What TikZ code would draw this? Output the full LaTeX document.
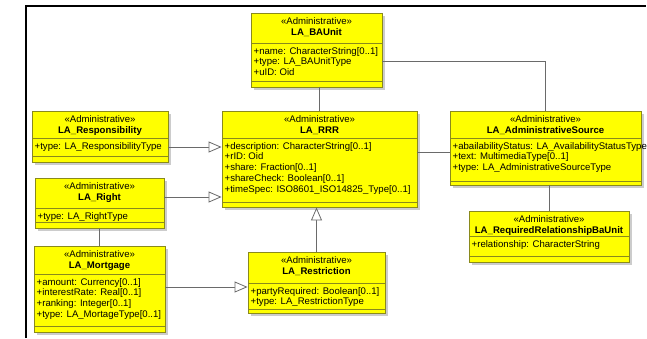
\documentclass[tikz,border=0pt]{standalone}
\usepackage{fontspec}
\setmainfont{Liberation Sans}
\usetikzlibrary{arrows.meta,fit}
\definecolor{classfill}{HTML}{FFFF00}
\definecolor{classedge}{HTML}{8A8A1C}
\definecolor{linkgray}{HTML}{6A6A6A}
\tikzset{
  classbox/.style={draw=classedge, fill=classfill, line width=0.9pt, inner sep=0pt},
  shadowbox/.style={fill=black!20},
  compsep/.style={draw=classedge, line width=0.9pt},
  umltext/.style={inner sep=0pt, font=\fontsize{9.6}{11}\selectfont},
  umltitle/.style={inner sep=0pt, font=\fontsize{9.6}{11}\selectfont\bfseries},
  assoc/.style={draw=linkgray, line width=0.8pt},
  generalization/.style={assoc, -{Triangle[open, length=13pt, width=11pt, fill=white]}},
  frameline/.style={line width=2pt, draw=black},
}
% class box: id, x1, y1, x2, y2, header separator, attribute separator, name, attributes
\newcommand\umlclass[9]{%
  \fill[shadowbox] ({#2+3},{#3+3}) rectangle ({#4+3},{#5+3});
  \node[classbox, fit={(#2,#3) (#4,#5)}] (#1) {};
  \draw[compsep] (#2,#6) -- (#4,#6) (#2,#7) -- (#4,#7);
  \node[umltext, anchor=base] at ({(#2+#4)/2},{#3+11.5}) {«Administrative»};
  \node[umltitle, anchor=base] at ({(#2+#4)/2},{#3+22.5}) {#8};
  \foreach \attr [count=\k] in {#9}
    \node[umltext, anchor=base west] at ({#2+2.5},{#6+11+(\k-1)*10.8}) {\attr};
}
\begin{document}
\begin{tikzpicture}[x=1pt, y=-1pt]
\useasboundingbox (0,0) rectangle (647,338);
\draw[frameline] (25.8,338) -- (25.8,5.8) -- (646,5.8);

\umlclass{bau}{251}{13}{382}{87}{43}{81}{LA\_BAUnit}
  {{+name: CharacterString[0..1]},{+type: LA\_BAUnitType},{+uID: Oid}}
\umlclass{resp}{32}{111}{168}{162}{138}{156}{LA\_Responsibility}
  {{+type: LA\_ResponsibilityType}}
\umlclass{right}{35}{178}{164}{228}{208}{222}{LA\_Right}
  {{+type: LA\_RightType}}
\umlclass{rrr}{222}{111}{417}{207}{138}{202}{LA\_RRR}
  {{+description: CharacterString[0..1]},{+rID: Oid},{+share: Fraction[0..1]},{+shareCheck: Boolean[0..1]},{+timeSpec: ISO8601\_ISO14825\_Type[0..1]}}
\umlclass{src}{450}{111}{641}{185}{138}{181}{LA\_AdministrativeSource}
  {{+abailabilityStatus: LA\_AvailabilityStatusType},{+text: MultimediaType[0..1]},{+type: LA\_AdministrativeSourceType}}
\umlclass{req}{469}{211}{629}{262}{236}{256}{LA\_RequiredRelationshipBaUnit}
  {{+relationship: CharacterString}}
\umlclass{mort}{34}{246}{165}{332}{274}{326}{LA\_Mortgage}
  {{+amount: Currency[0..1]},{+interestRate: Real[0..1]},{+ranking: Integer[0..1]},{+type: LA\_MortageType[0..1]}}
\umlclass{restr}{248}{252}{385}{313}{283}{309}{LA\_Restriction}
  {{+partyRequired: Boolean[0..1]},{+type: LA\_RestrictionType}}

% associations
\draw[assoc] (rrr.north) -- (rrr.north |- bau.south);
\draw[assoc] (bau.east |- 0,61) -| (src.north);
\draw[assoc] (rrr.east |- 0,152) -- (src.west |- 0,152);
\draw[assoc] (req.north) -- (req.north |- src.south);
\draw[assoc] (right.south) -- (mort.north);

% generalizations
\draw[generalization] (resp.east |- 0,147) -- (rrr.west |- 0,147);
\draw[generalization] (right.east |- 0,197) -- (rrr.west |- 0,197);
\draw[generalization] (mort.east |- 0,287) -- (restr.west |- 0,287);
\draw[generalization] (restr.north) -- (restr.north |- rrr.south);
\end{tikzpicture}
\end{document}
